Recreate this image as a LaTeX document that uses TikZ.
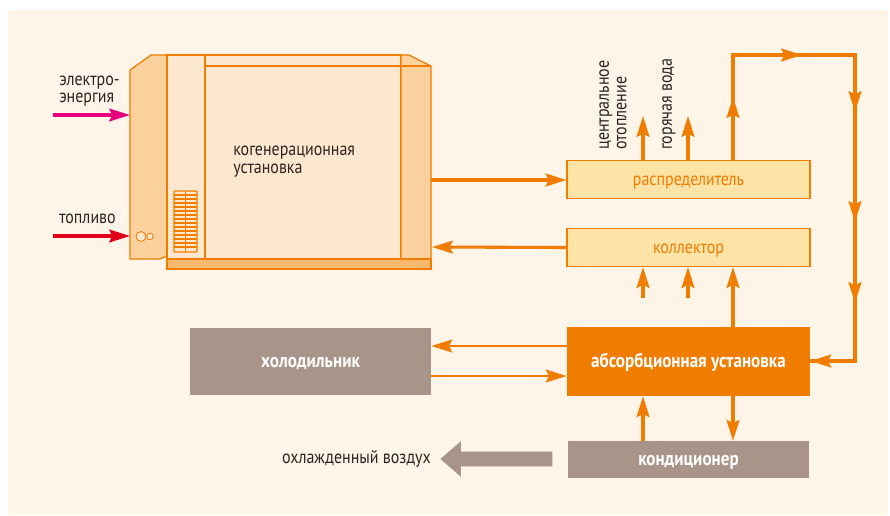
\documentclass[tikz,border=0pt]{standalone}
\usepackage{fontspec}
\setmainfont[FakeStretch=0.86]{PT Sans}
\usepackage{tikz}
\usetikzlibrary{arrows.meta, positioning, calc, shapes.arrows}
\definecolor{cream}{HTML}{FEF4E8}
\definecolor{line}{HTML}{F07C00}
\definecolor{panel}{HTML}{FBD29E}
\definecolor{body}{HTML}{FDE7CE}
\definecolor{base}{HTML}{F9B96C}
\definecolor{pale}{HTML}{FDE3A6}
\definecolor{taupe}{HTML}{A89488}
\definecolor{ink}{HTML}{2A2522}
\definecolor{pink}{HTML}{E6007E}
\definecolor{fuelred}{HTML}{E2001A}
\begin{document}
\begin{tikzpicture}[x=0.025cm,y=-0.025cm,>={Stealth[length=5.2mm,width=3.2mm,inset=0.8mm]},flow/.style={->,line width=2.2pt,draw=line},plainflow/.style={line width=2.2pt,draw=line},casing/.style={draw=line,line width=0.9pt},unitbox/.style={rectangle,minimum width=6.075cm,inner sep=0pt,text height=8pt,text depth=0pt},palebox/.style={unitbox,draw=line,line width=0.8pt,fill=pale,text=line,font=\fontsize{13.2}{15}\selectfont},darkbox/.style={unitbox,fill=taupe,text=white,font=\bfseries\fontsize{14.1}{15}\selectfont},caption/.style={text=ink,align=left,inner sep=0pt,font=\fontsize{13.2}{12.5}\selectfont}]
\useasboundingbox (0,0) rectangle (890,515);
\fill[white] (0,0) rectangle (890,515);
\fill[cream] (8,10) rectangle (888,515);
% cogeneration unit
\filldraw[casing,fill=panel] (130,70)--(151,55)--(167,55)--(167,256)--(160,259)--(130,259)--cycle;
\filldraw[casing,fill=body] (167,55) rectangle (205,259);
\filldraw[casing,fill=body] (205,55) rectangle (401,66);
\filldraw[casing,fill=body] (205,66) rectangle (401,259);
\filldraw[casing,fill=panel] (401,55)--(409,55)--(431,66)--(431,259)--(401,259)--cycle;
\draw[casing] (401,66)--(431,66);
\filldraw[casing,fill=base] (167,259) rectangle (431,269);
% grille
\filldraw[casing,fill=body,rounded corners=0.5pt] (174,191) rectangle (197,252);
\foreach \y in {195,199,...,248} \draw[line,line width=1pt] (174,\y)--(197,\y);
\draw[line,line width=0.9pt] (185.5,191)--(185.5,252);
% burner
\node[circle,draw=line,line width=0.6pt,fill=body,minimum size=7pt,inner sep=0pt] (burner) at (141,236.5) {};
\node[circle,draw=line,line width=0.6pt,fill=body,minimum size=4.6pt,inner sep=0pt,right=0pt of burner] (burnersmall) {};
\node[caption,anchor=west] (unit) at (233,161.5) {когенерационная\\установка};
% inputs
\coordinate (power) at (130,115);
\coordinate (powerstart) at (53,115);
\coordinate (fuel) at (130,236);
\coordinate (fuelstart) at (53,236);
\coordinate (unitout) at (431,180);
\coordinate (unitin) at (432,247);
\draw[flow,draw=pink] (powerstart)--(power);
\draw[flow,draw=fuelred] (fuelstart)--(fuel);
\node[caption,anchor=west] (powerlabel) at (59,91) {электро-\\энергия};
\node[caption,anchor=west] (fuellabel) at (59,219) {топливо};
% boxes on the right
\node[palebox,minimum height=0.95cm] (dist) at (688.5,179.5) {распределитель};
\node[palebox,minimum height=0.95cm] (coll) at (688.5,247.5) {коллектор};
\node[unitbox,fill=line,text=white,font=\bfseries\fontsize{14.1}{15}\selectfont,minimum height=1.725cm] (absorb) at (688.5,361.5) {абсорбционная установка};
\node[darkbox,minimum height=0.925cm,minimum width=6.025cm] (cond) at (688.5,459.5) {кондиционер};
\node[darkbox,minimum height=1.675cm,minimum width=6.025cm] (cold) at (310.5,361.5) {холодильник};
% consumers
\coordinate (heat) at (643,116);
\coordinate (water) at (688,116);
\node[caption,rotate=90,anchor=west,align=left] (heatlabel) at (613,150) {центральное\\отопление};
\node[caption,rotate=90,anchor=west] (waterlabel) at (669,150) {горячая вода};
\draw[flow] (heat |- dist.north)--(heat);
\draw[flow] (water |- dist.north)--(water);
\draw[flow] (unitout)--(unitout -| dist.west);
\draw[flow] (coll.west)--(unitin);
% returns into the collector
\coordinate (backa) at (643,298);
\coordinate (backb) at (688,298);
\coordinate (backc) at (733,327);
\draw[flow] (backa)--(backa |- coll.south);
\draw[flow] (backb)--(backb |- coll.south);
\draw[flow] (backc |- absorb.north)--(backc |- coll.south);
% loop from the distributor round to the absorption unit
\coordinate (loopa) at (733,97);
\coordinate (loopb) at (733,55);
\coordinate (loopc) at (802,55);
\coordinate (loopd) at (855,55);
\coordinate (loope) at (855,112);
\coordinate (loopf) at (855,222);
\coordinate (loopg) at (855,303);
\coordinate (looph) at (855,361);
\draw[plainflow] (loopa |- dist.north)--(loopb)--(loopd)--(looph)--(looph -| absorb.east);
\draw[flow] (loopa |- dist.north)--(loopa);
\draw[flow] (loopb)--(loopc);
\draw[flow] (loopd)--(loope);
\draw[flow] (loope)--(loopf);
\draw[flow] (loopf)--(loopg);
\draw[flow] (looph)--(looph -| absorb.east);
% chiller and air conditioner links
\coordinate (coldback) at (567,346);
\coordinate (coldout) at (431,376);
\draw[flow,line width=2pt] (coldback)--(coldback -| cold.east);
\draw[flow,line width=2pt] (coldout)--(coldout -| absorb.west);
\coordinate (condup) at (643,441);
\coordinate (conddown) at (733,396);
\draw[flow] (condup |- cond.north)--(condup |- absorb.south);
\draw[flow] (conddown |- absorb.south)--(conddown |- cond.north);
% cooled air
\node[single arrow,fill=taupe,inner sep=0.175cm,anchor=tip,minimum height=2.8cm,minimum width=0.875cm,single arrow head extend=0.2625cm,single arrow tip angle=82,shape border rotate=180] (air) at (440,459) {};
\node[caption,anchor=east] (airlabel) at (431,459) {охлажденный воздух};
\end{tikzpicture}
\end{document}
